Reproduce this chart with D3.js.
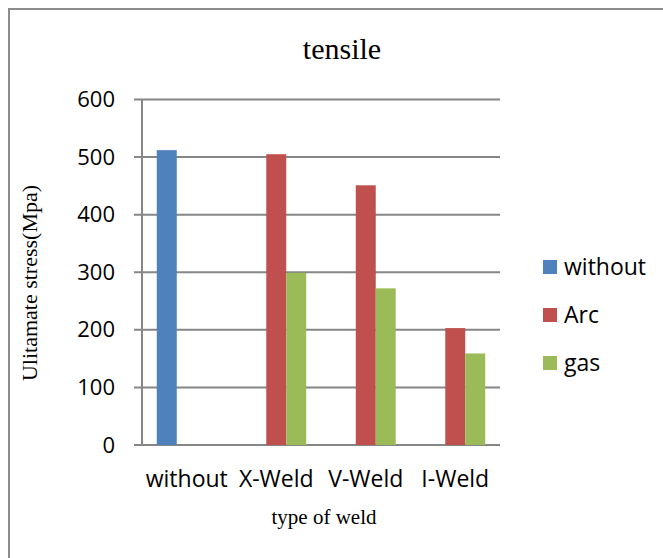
<!DOCTYPE html>
<html>
<head>
<meta charset="utf-8">
<script src="https://cdn.jsdelivr.net/npm/d3@7"></script>
<style>
  body { margin: 0; background: #fff; }
  .tick text { font-family: "Open Sans", sans-serif; }
</style>
</head>
<body>
<div id="chart"></div>
<script>
// chart data
var categories = ["without", "X-Weld", "V-Weld", "I-Weld"];
var seriesNames = ["without", "Arc", "gas"];
var seriesColors = ["#4f81bd", "#c0504d", "#9bbb59"];
var withoutValues = [512, 0, 0, 0];
var arcValues = [0, 505, 451, 203];
var gasValues = [0, 299, 272, 159];
var yTicks = [0, 100, 200, 300, 400, 500, 600];

var svgWidth = 663;
var svgHeight = 558;

var chartMargin = { top: 99.5, left: 142, right: 163, bottom: 113 };
var chartWidth = svgWidth - chartMargin.left - chartMargin.right;
var chartHeight = svgHeight - chartMargin.top - chartMargin.bottom;

var svg = d3.select("#chart")
  .append("svg")
  .attr("width", svgWidth)
  .attr("height", svgHeight)
  .style("display", "block");

svg.append("rect")
  .attr("width", svgWidth)
  .attr("height", svgHeight)
  .attr("fill", "#fff");

// outer frame (only top and left edges show)
svg.append("path")
  .attr("d", "M9,558 V9 H663")
  .attr("fill", "none")
  .attr("stroke", "#8c8c8c")
  .attr("stroke-width", 2);

var chartGroup = svg.append("g")
  .attr("transform", `translate(${chartMargin.left}, ${chartMargin.top})`);

var x0 = d3.scaleBand()
  .domain(categories)
  .range([0, chartWidth])
  .padding(0);

var x1 = d3.scaleBand()
  .domain(seriesNames)
  .range([0, x0.bandwidth()])
  .paddingInner(0)
  .paddingOuter(0.74);

var y = d3.scaleLinear()
  .domain([0, 600])
  .range([chartHeight, 0]);

// gridlines
chartGroup.append("g")
  .selectAll("line")
  .data(yTicks)
  .enter()
  .append("line")
  .attr("x1", -8)
  .attr("x2", chartWidth)
  .attr("y1", d => y(d))
  .attr("y2", d => y(d))
  .attr("stroke", "#868686")
  .attr("stroke-width", 2);

// y axis
var leftAxis = d3.axisLeft(y).tickValues(yTicks).tickSize(0).tickPadding(27);
var yAxisG = chartGroup.append("g").call(leftAxis);
yAxisG.select(".domain").remove();
yAxisG.selectAll("text")
  .attr("font-size", 22)
  .attr("fill", "#000");

chartGroup.append("line")
  .attr("x1", 0).attr("x2", 0)
  .attr("y1", y(600)).attr("y2", y(0))
  .attr("stroke", "#868686")
  .attr("stroke-width", 2);

// x axis labels
var bottomAxis = d3.axisBottom(x0).tickSize(0).tickPadding(26);
var xAxisG = chartGroup.append("g")
  .attr("transform", `translate(0, ${chartHeight})`)
  .call(bottomAxis);
xAxisG.select(".domain").remove();
xAxisG.selectAll("text")
  .attr("font-size", 23)
  .attr("fill", "#000");

// bars
var rows = categories.map(function(c, i) {
  return { category: c, values: [withoutValues[i], arcValues[i], gasValues[i]] };
});

chartGroup.selectAll(".group")
  .data(rows)
  .enter()
  .append("g")
  .attr("class", "group")
  .attr("transform", d => `translate(${x0(d.category)}, 0)`)
  .selectAll("rect")
  .data(d => d.values.map((v, j) => ({ name: seriesNames[j], value: v, color: seriesColors[j] })))
  .enter()
  .filter(d => d.value > 0)
  .append("rect")
  .attr("x", d => x1(d.name))
  .attr("y", d => y(d.value))
  .attr("width", x1.bandwidth())
  .attr("height", d => y(0) - y(d.value))
  .attr("fill", d => d.color);

// title
svg.append("text")
  .attr("x", 342)
  .attr("y", 59)
  .attr("text-anchor", "middle")
  .attr("font-family", "'Liberation Serif', 'Times New Roman', serif")
  .attr("font-size", 30)
  .text("tensile");

// axis titles
svg.append("text")
  .attr("x", 324)
  .attr("y", 524)
  .attr("text-anchor", "middle")
  .attr("font-family", "'Liberation Serif', 'Times New Roman', serif")
  .attr("font-size", 21)
  .text("type of weld");

svg.append("text")
  .attr("transform", "translate(37, 283) rotate(-90)")
  .attr("text-anchor", "middle")
  .attr("font-family", "'Liberation Serif', 'Times New Roman', serif")
  .attr("font-size", 22)
  .text("Ulitamate stress(Mpa)");

// legend
var legend = svg.append("g")
  .attr("transform", "translate(543, 267)");

var legendItems = legend.selectAll("g")
  .data(seriesNames)
  .enter()
  .append("g")
  .attr("transform", (d, i) => `translate(0, ${i * 48})`);

legendItems.append("rect")
  .attr("x", 0)
  .attr("y", -7)
  .attr("width", 14)
  .attr("height", 14)
  .attr("fill", (d, i) => seriesColors[i]);

legendItems.append("text")
  .attr("x", 21)
  .attr("y", 0)
  .attr("dy", "0.35em")
  .attr("font-family", "'Open Sans', sans-serif")
  .attr("font-size", 23)
  .text(d => d);
</script>
</body>
</html>
